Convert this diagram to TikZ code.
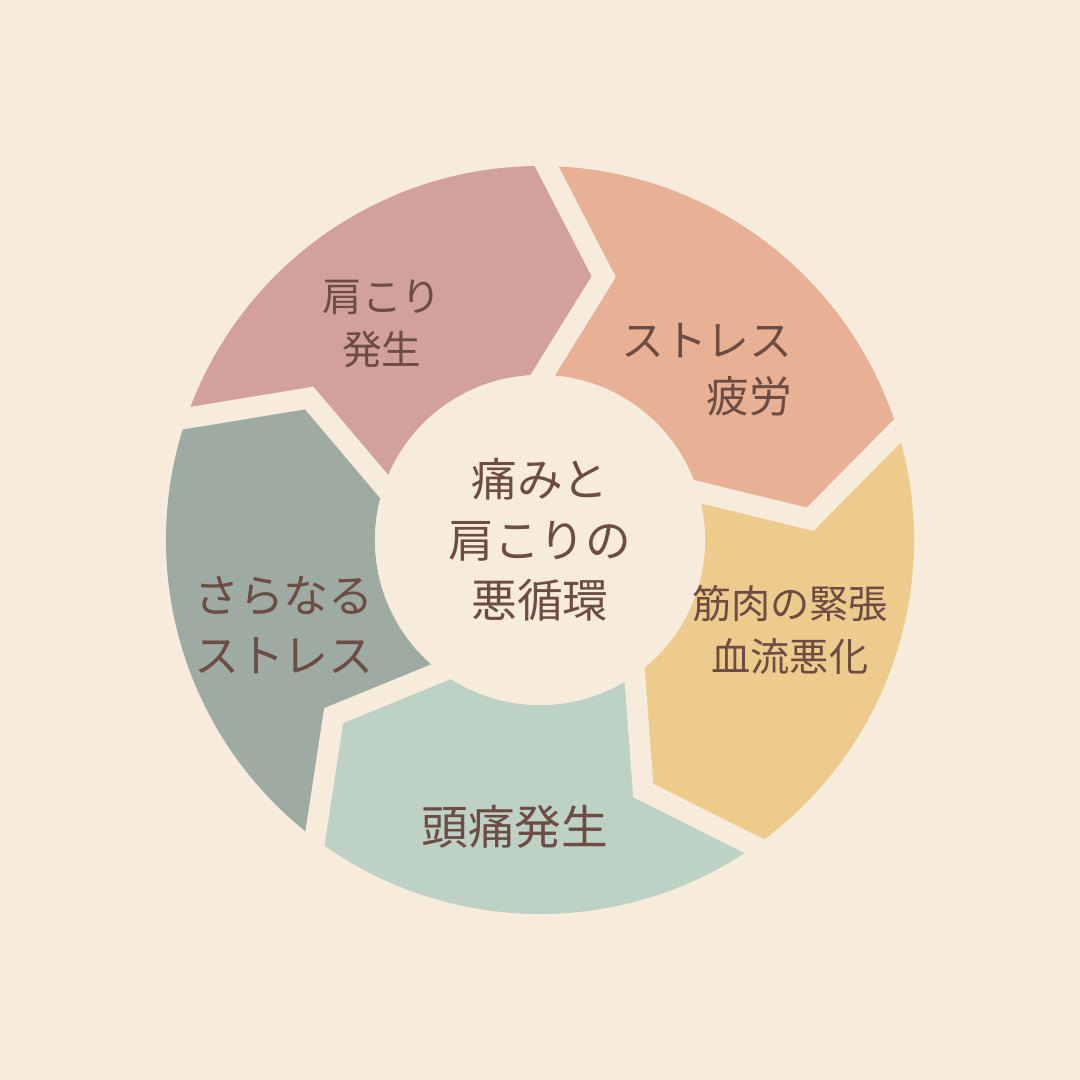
\documentclass[tikz,border=0pt]{standalone}
\usepackage{fontspec}
\usepackage{xcolor}
\usetikzlibrary{calc}
\newfontfamily\jpfont{Noto Sans CJK JP}
\definecolor{bgcol}{HTML}{F7EBDC}
\definecolor{pinkcol}{HTML}{D3A19B}
\definecolor{peachcol}{HTML}{E8B196}
\definecolor{yellowcol}{HTML}{EDCB8C}
\definecolor{greencol}{HTML}{BDD1C5}
\definecolor{graycol}{HTML}{9DABA2}
\definecolor{textcol}{HTML}{6D4C43}

\begin{document}
\begin{tikzpicture}[x=0.02cm, y=0.02cm,
    gapline/.style={draw=bgcol, line width=0.42cm, line join=miter},
    lbl/.style={text=textcol, align=center, inner sep=0pt, font=\jpfont\fontsize{#1}{#1}\selectfont},
  ]
    \fill[bgcol] (-540,-540) rectangle (540,540);
    \useasboundingbox (-540,-540) rectangle (540,540);

    % chevron points between the segments
    \coordinate (o1) at (89:374);   \coordinate (t1) at (76.4:271);   \coordinate (i1) at (89:165);
    \coordinate (o2) at (17:374);   \coordinate (t2) at (4.4:271);    \coordinate (i2) at (17:165);
    \coordinate (o3) at (-55:374);  \coordinate (t3) at (-67.6:271);  \coordinate (i3) at (-55:165);
    \coordinate (o4) at (-127:374); \coordinate (t4) at (-139.6:271); \coordinate (i4) at (-127:165);
    \coordinate (o5) at (161:374);  \coordinate (t5) at (148.4:271);  \coordinate (i5) at (161:165);

    % segments
    \fill[pinkcol] (o5) arc[start angle=161, end angle=89, radius=374] -- (t1) -- (i1)
        arc[start angle=89, end angle=161, radius=165] -- (t5) -- cycle;
    \fill[peachcol] (o1) arc[start angle=89, end angle=17, radius=374] -- (t2) -- (i2)
        arc[start angle=17, end angle=89, radius=165] -- (t1) -- cycle;
    \fill[yellowcol] (o2) arc[start angle=17, end angle=-55, radius=374] -- (t3) -- (i3)
        arc[start angle=-55, end angle=17, radius=165] -- (t2) -- cycle;
    \fill[greencol] (o3) arc[start angle=-55, end angle=-127, radius=374] -- (t4) -- (i4)
        arc[start angle=-127, end angle=-55, radius=165] -- (t3) -- cycle;
    \fill[graycol] (o4) arc[start angle=-127, end angle=-199, radius=374] -- (t5) -- (i5)
        arc[start angle=161, end angle=233, radius=165] -- (t4) -- cycle;

    % gaps
    \draw[gapline] ($(t1)!1.3!(o1)$) -- (t1) -- ($(t1)!1.3!(i1)$);
    \draw[gapline] ($(t2)!1.3!(o2)$) -- (t2) -- ($(t2)!1.3!(i2)$);
    \draw[gapline] ($(t3)!1.3!(o3)$) -- (t3) -- ($(t3)!1.3!(i3)$);
    \draw[gapline] ($(t4)!1.3!(o4)$) -- (t4) -- ($(t4)!1.3!(i4)$);
    \draw[gapline] ($(t5)!1.3!(o5)$) -- (t5) -- ($(t5)!1.3!(i5)$);
    \fill[bgcol] (0,0) circle (165);

    % labels
    \node[lbl=22.6pt] (kata) at (-158,216) {肩こり\\[8pt]発生};
    \node[lbl=24.4pt, align=right] (stress) at (167,170) {ストレス\\[7.5pt]疲労};
    \node[lbl=22.3pt] (kinniku) at (250,-90) {筋肉の緊張\\[8.3pt]血流悪化};
    \node[lbl=26.6pt] (zutsu) at (-25,-287) {頭痛発生};
    \node[lbl=25.6pt] (sarani) at (-256,-85) {さらなる\\[8.5pt]ストレス};
    \node[lbl=26pt] (center) at (0,0) {痛みと\\[8.5pt]肩こりの\\[8.5pt]悪循環};
\end{tikzpicture}
\end{document}
